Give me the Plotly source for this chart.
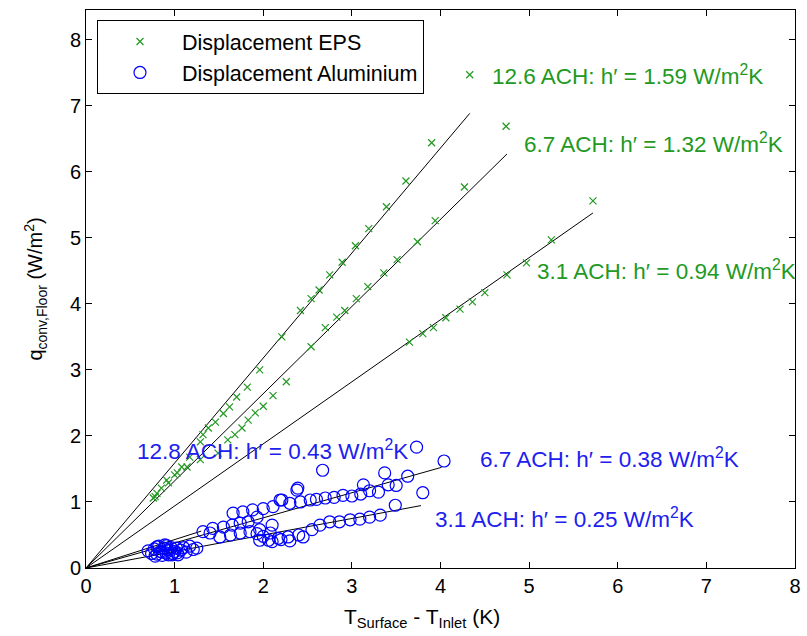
import plotly.graph_objects as go

# ---- Data ----
# Displacement EPS (green crosses): 12.6 ACH, 6.7 ACH, 3.1 ACH groups
eps_x = [0.76, 0.80, 0.85, 0.93, 1.00, 1.08, 1.17, 1.29, 1.32, 1.38, 1.46, 1.55, 1.62, 1.70, 1.82, 1.96, 2.21,
         2.42, 2.54, 2.63, 2.75, 2.89, 3.04, 3.19, 3.39, 3.61, 3.90, 4.33,
         0.78, 0.91, 1.03, 1.14, 1.29, 1.49, 1.60, 1.68, 1.76, 1.83, 1.91, 2.00, 2.11, 2.26, 2.54, 2.70, 2.83,
         2.92, 3.05, 3.18, 3.36, 3.51, 3.74, 3.94, 4.27, 4.74,
         3.65, 3.80, 3.92, 4.06, 4.22, 4.36, 4.50, 4.75, 4.97, 5.25, 5.72]
eps_y = [1.06, 1.13, 1.21, 1.29, 1.41, 1.53, 1.68, 1.91, 2.02, 2.12, 2.21, 2.34, 2.44, 2.59, 2.74, 3.00, 3.50,
         3.90, 4.08, 4.21, 4.44, 4.63, 4.88, 5.14, 5.47, 5.86, 6.44, 7.47,
         1.08, 1.33, 1.44, 1.53, 1.64, 1.74, 1.94, 2.02, 2.12, 2.24, 2.35, 2.45, 2.61, 2.82, 3.35, 3.64, 3.80,
         3.90, 4.08, 4.26, 4.47, 4.67, 4.94, 5.26, 5.77, 6.69,
         3.42, 3.55, 3.64, 3.79, 3.92, 4.03, 4.17, 4.44, 4.62, 4.97, 5.56]

# Displacement Aluminium (blue circles)
alu_x = [0.70, 0.74, 0.77, 0.80, 0.82, 0.84, 0.86, 0.88, 0.90, 0.91, 0.93, 0.95, 0.96, 0.98, 1.00, 1.02,
         1.04, 1.07, 1.10, 1.13, 1.17, 1.21, 1.25, 0.80, 0.86, 0.92, 0.97, 1.03, 0.78, 0.89,
         1.32, 1.40, 1.43, 1.51, 1.55, 1.63, 1.65, 1.74, 1.74, 1.83, 1.85, 1.93, 1.96, 2.08, 2.10,
         1.66, 1.77, 1.88, 2.00, 2.11, 2.19,
         2.21, 2.30, 2.38, 2.42, 2.53, 2.60, 2.70, 2.80, 2.90, 3.00, 3.10, 3.13, 3.20, 3.30, 3.37, 3.41,
         3.50, 3.63, 3.73, 3.80, 4.04, 2.67, 2.39,
         1.96, 2.00, 2.06, 2.10, 2.17, 2.20, 2.28, 2.30, 2.40, 2.45, 2.55, 2.64, 2.75, 2.86, 2.98, 3.09,
         3.20, 3.32, 3.49, 1.93]
alu_y = [0.26, 0.22, 0.29, 0.21, 0.33, 0.25, 0.19, 0.30, 0.23, 0.34, 0.20, 0.27, 0.31, 0.22, 0.25, 0.30,
         0.20, 0.27, 0.31, 0.24, 0.33, 0.28, 0.30, 0.32, 0.24, 0.28, 0.20, 0.23, 0.18, 0.35,
         0.55, 0.53, 0.60, 0.47, 0.62, 0.50, 0.65, 0.68, 0.53, 0.70, 0.55, 0.77, 0.58, 0.53, 0.65,
         0.83, 0.85, 0.88, 0.90, 0.93, 1.03,
         1.03, 0.98, 1.18, 1.00, 1.03, 1.04, 1.06, 1.07, 1.10, 1.09, 1.12, 1.26, 1.17, 1.15, 1.44, 1.26,
         1.25, 1.39, 1.83, 1.14, 1.62, 1.48, 1.21,
         0.42, 0.48, 0.42, 0.40, 0.45, 0.43, 0.47, 0.41, 0.50, 0.47, 0.58, 0.65, 0.70, 0.70, 0.73, 0.74,
         0.77, 0.80, 0.95, 0.52]

# Fitted lines: h' (slope) and x-extent of each fit
eps_h = [1.59, 1.32, 0.94]
eps_xmax = [4.33, 4.75, 5.72]
alu_h = [0.43, 0.38, 0.25]
alu_xmax = [1.30, 4.01, 3.78]

labels = [
    ("12.6 ACH: h\u2032 = 1.59 W/m<sup>2</sup>K", 4.56, 7.47, "#229922"),
    ("6.7 ACH: h\u2032 = 1.32 W/m<sup>2</sup>K", 4.92, 6.44, "#229922"),
    ("3.1 ACH: h\u2032 = 0.94 W/m<sup>2</sup>K", 5.07, 4.52, "#229922"),
    ("12.8 ACH: h\u2032 = 0.43 W/m<sup>2</sup>K", 0.55, 1.79, "#2020ee"),
    ("6.7 ACH: h\u2032 = 0.38 W/m<sup>2</sup>K", 4.42, 1.67, "#2020ee"),
    ("3.1 ACH: h\u2032 = 0.25 W/m<sup>2</sup>K", 3.91, 0.76, "#2020ee"),
]

FONT = "Liberation Sans, Arial, sans-serif"

fig = go.Figure()

for h, xm in list(zip(eps_h, eps_xmax)) + list(zip(alu_h, alu_xmax)):
    fig.add_trace(go.Scatter(x=[0, xm], y=[0, h * xm], mode="lines",
                             line=dict(color="black", width=1), showlegend=False,
                             hoverinfo="skip"))

fig.add_trace(go.Scatter(x=eps_x, y=eps_y, mode="markers", name="Displacement EPS",
                         marker=dict(symbol="x-thin-open", size=7,
                                     line=dict(color="#229922", width=1.2), color="#229922")))
fig.add_trace(go.Scatter(x=alu_x, y=alu_y, mode="markers", name="Displacement Aluminium",
                         marker=dict(symbol="circle-open", size=12,
                                     line=dict(color="#0000ff", width=1.2), color="#0000ff")))

for txt, x, y, c in labels:
    fig.add_annotation(x=x, y=y, text=txt, showarrow=False, xanchor="left", yanchor="middle",
                       font=dict(size=22.5, color=c, family=FONT))

# x-axis title as an annotation (placed like the reference)
fig.add_annotation(xref="paper", yref="paper", x=0.474, y=-0.062, xanchor="center", yanchor="top",
                   text="T<sub>Surface</sub> - T<sub>Inlet</sub> (K)", showarrow=False,
                   font=dict(size=21, color="black", family=FONT))

axis_common = dict(showgrid=False, zeroline=False, showline=True, linecolor="black", linewidth=1,
                   mirror="ticks", ticks="inside", ticklen=6, tickcolor="black", automargin=False,
                   tickfont=dict(size=20, color="black", family=FONT))

fig.update_xaxes(range=[0, 8], tickvals=[0, 1, 2, 3, 4, 5, 6, 7, 8], **axis_common)
fig.update_yaxes(range=[0, 8.45], tickvals=[0, 1, 2, 3, 4, 5, 6, 7, 8],
                 title=dict(text="q<sub>conv,Floor</sub> (W/m<sup>2</sup>)",
                            font=dict(size=20, color="black", family=FONT), standoff=21),
                 **axis_common)

fig.update_layout(
    width=807, height=636,
    margin=dict(l=86, r=12, t=10, b=68),
    paper_bgcolor="white", plot_bgcolor="white",
    font=dict(family=FONT, color="black"),
    legend=dict(x=0.0155, y=0.982, xanchor="left", yanchor="top",
                bordercolor="black", borderwidth=1, bgcolor="white",
                font=dict(size=21.5, color="black", family=FONT), tracegroupgap=0, itemwidth=74),
)

fig.write_html("out.html", config={"displayModeBar": False},
               post_script="document.body.style.margin='0px';")
